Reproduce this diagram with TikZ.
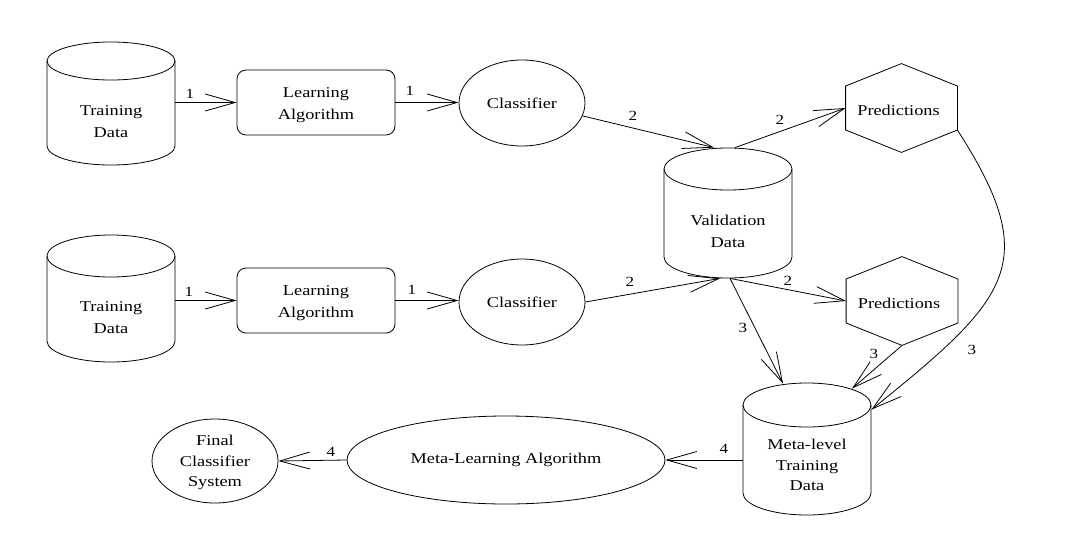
\documentclass[tikz,border=0pt]{standalone}
\usepackage{fontspec}
\setmainfont{Liberation Serif}[FakeStretch=1.22]
\usetikzlibrary{arrows.meta,shapes.geometric,calc}

\newcommand\mycyl[6]{% name, cx, ytop, ybot, rx, ry
  \draw (#2-#5,-#3) -- (#2-#5,-#4) arc (180:360:#5 and #6) -- (#2+#5,-#3);
  \draw (#2,-#3) ellipse (#5 and #6);
  \node[minimum width=2*#5, minimum height=#4-#3+2*#6, inner sep=0] (#1) at (#2,{-(#3+#4)/2}) {};
}
\newcommand\myhex[4]{% name, cx, cy, text
  \node[minimum width=111, minimum height=88, inner sep=0] (#1) at (#2,-#3) {};
  \node[inner sep=0] (#1t) at (#2-3,-#3-2) {#4};
  \draw (#1.north) -- ($(#1.east)+(0,22)$) -- ($(#1.east)+(0,-22)$) -- (#1.south)
     -- ($(#1.west)+(0,-22)$) -- ($(#1.west)+(0,22)$) -- cycle;
}

\begin{document}
\begin{tikzpicture}[x=1pt,y=1pt, line width=0.8pt,
  every node/.style={font=\fontsize{15}{22}\selectfont, align=center},
  txt/.style={inner sep=0},
  tight/.style={font=\fontsize{15}{20.5}\selectfont, inner sep=0},
  arr/.style={-{Straight Barb[length=30pt,width=17pt,line width=0.8pt]}},
  lbl/.style={font=\fontsize{14}{16}\selectfont, inner sep=1pt},
  box/.style={draw, rounded corners=9pt, minimum width=158, minimum height=65, inner sep=0},
  ell/.style={draw, ellipse, inner sep=0}]
\useasboundingbox (0,0) rectangle (1079,-544);

% cylinders
\mycyl{cylA}{111}{61}{146}{64}{19}
\node[txt] (tA) at (111,-122) {Training\\Data};
\mycyl{cylB}{111}{256}{341}{64}{21}
\node[txt] (tB) at (111,-318) {Training\\Data};
\mycyl{val}{728}{169}{257}{64}{21}
\node[txt] (tV) at (728,-231) {Validation\\Data};
\mycyl{meta}{807}{405}{493}{64}{22}
\node[tight] (tM) at (807,-465) {Meta-level\\Training\\Data};

% boxes
\node[box] (la1) at (316,-102.5) {};
\node[txt] (la1t) at (316,-105) {Learning\\Algorithm};
\node[box] (la2) at (316,-300.5) {};
\node[txt] (la2t) at (316,-303.5) {Learning\\Algorithm};

% classifiers
\node[ell, minimum width=126, minimum height=86] (c1) at (522,-103) {Classifier};
\node[ell, minimum width=126, minimum height=86] (c2) at (522,-302) {Classifier};

% predictions
\myhex{p1}{901.5}{108}{Predictions}
\myhex{p2}{902}{301}{Predictions}

% meta learning + final
\node[ell, minimum width=318, minimum height=88] (mla) at (506,-460) {Meta-Learning Algorithm};
\node[ell, minimum width=126, minimum height=84] (fin) at (215,-461) {};
\node[tight] (fint) at (215,-462.5) {Final\\Classifier\\System};

% connectors
\draw[arr] (cylA.east|-la1.west) -- (la1.west);
\draw[arr] (la1.east) -- (c1.west|-la1.east);
\draw[arr] (c1.-12) -- ($(val.north)+(-14,0)$);
\draw[arr] ($(val.north)+(7,0)$) -- (p1.west);
\draw[arr] (cylB.east|-la2.west) -- (la2.west);
\draw[arr] (la2.east) -- (c2.west|-la2.east);
\draw[arr] (c2.east) -- ($(val.south)+(-8,0)$);
\draw[arr] ($(val.south)+(2,0)$) -- (p2.west);
\draw[arr] ($(val.south)+(2,0)$) -- ($(meta.north)+(-24,-1)$);
\draw[arr] (p2.south) -- ($(meta.north)+(45,-6)$);
\draw[arr] ($(p1.east)+(0,-22)$) .. controls (1043,-263) and (1010,-298) .. ($(meta.north east)+(0,-27)$);
\draw[arr] (meta.west|-mla.east) -- (mla.east);
\draw[arr] (mla.west) -- (fin.east);

% labels
\node[lbl] (n1) at (190,-94) {1};
\node[lbl] (n2) at (410,-91) {1};
\node[lbl] (n3) at (633,-116) {2};
\node[lbl] (n4) at (780,-120) {2};
\node[lbl] (n5) at (189,-292) {1};
\node[lbl] (n6) at (412,-290) {1};
\node[lbl] (n7) at (630,-282) {2};
\node[lbl] (n8) at (788,-281) {2};
\node[lbl] (n9) at (743,-328) {3};
\node[lbl] (n10) at (874,-354) {3};
\node[lbl] (n11) at (972,-350) {3};
\node[lbl] (n12) at (724,-449) {4};
\node[lbl] (n13) at (331,-452) {4};
\end{tikzpicture}
\end{document}
